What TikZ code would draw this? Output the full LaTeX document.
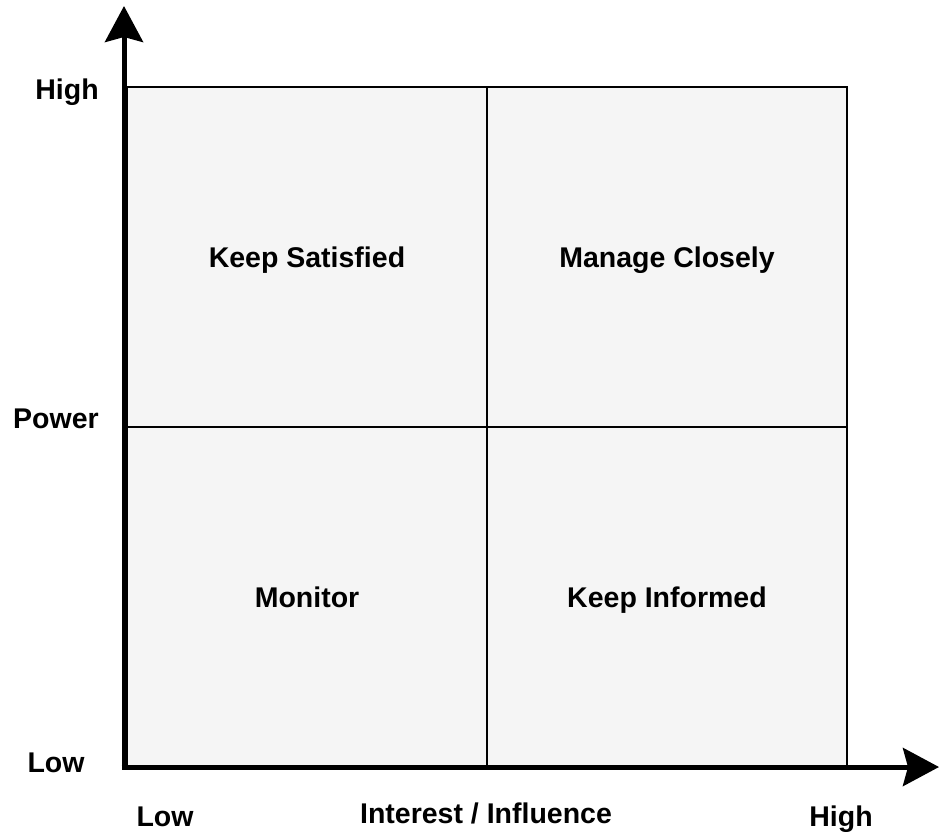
\documentclass[tikz,border=0pt]{standalone}
\usepackage{fontspec}
\setmainfont{Liberation Sans}
\usetikzlibrary{arrows.meta}
\definecolor{cellfill}{HTML}{F5F5F5}
\begin{document}
\begin{tikzpicture}[x=1pt,y=-1pt,
  txt/.style={font=\bfseries\fontsize{28.5}{30}\selectfont,
    text height=20pt, text depth=0pt},
  cell/.style={txt, draw=black, line width=2.5pt, fill=cellfill,
    minimum width=360pt, minimum height=340pt, inner sep=0pt, outer sep=0pt},
  lbl/.style={txt, inner sep=0pt},
  axis/.style={line width=5pt, line join=miter,
    -{Stealth[length=36pt, width=38pt, inset=5pt]}}]
  \useasboundingbox (0,0) rectangle (939,831);
  % four quadrants of the grid
  \node[cell] (ks) at (307,257) {Keep Satisfied};
  \node[cell] (mc) at (667,257) {Manage Closely};
  \node[cell] (mo) at (307,597) {Monitor};
  \node[cell] (ki) at (667,597) {Keep Informed};
  % axes
  \coordinate (origin) at (124,767);
  \coordinate (ytip) at (124,6);
  \coordinate (xtip) at (939,767);
  \draw[axis] (origin) -- (ytip);
  \draw[axis] ([xshift=-2.5pt]origin) -- (xtip);
  % vertical axis labels
  \node[lbl] (yhigh) at (67,89) {High};
  \node[lbl] (ypow) at (56,418) {Power};
  \node[lbl] (ylow) at (56,762) {Low};
  % horizontal axis labels
  \node[lbl] (xlow) at (165,816) {Low};
  \node[lbl] (xint) at (486,813) {Interest / Influence};
  \node[lbl] (xhigh) at (841,816) {High};
\end{tikzpicture}
\end{document}
